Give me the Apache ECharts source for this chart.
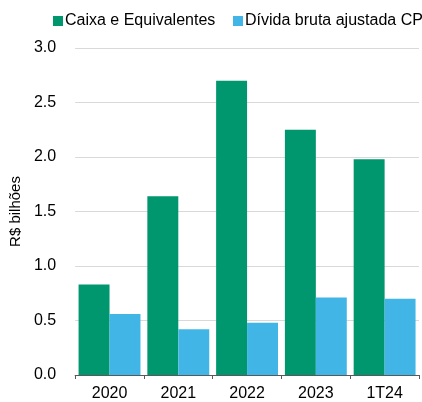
<!DOCTYPE html>
<html>
<head>
<meta charset="utf-8">
<script src="https://cdn.jsdelivr.net/npm/echarts@6/dist/echarts.min.js"></script>
<style>
  html, body { margin: 0; padding: 0; background: #fff; }
  #chart { width: 422px; height: 402px; }
</style>
</head>
<body>
<div id="chart"></div>
<script>
  const categories = ['2020', '2021', '2022', '2023', '1T24']
  const seriesNames = ['Caixa e Equivalentes', 'Dívida bruta ajustada CP']
  const caixa = [0.83, 1.64, 2.70, 2.25, 1.98]
  const divida = [0.56, 0.42, 0.48, 0.71, 0.70]
  const yTicks = { min: 0, max: 3, interval: 0.5 }

  const font = 'Liberation Sans, Arial, sans-serif'
  const legendBase = {
    top: 13,
    padding: 0,
    itemWidth: 10,
    itemHeight: 10,
    icon: 'rect',
    textStyle: { fontSize: 16, color: '#000', fontFamily: font, padding: [0, 0, 0, -3] },
  }
  let chart = echarts.init(document.getElementById('chart'))
  chart.setOption({
    animation: false,
    textStyle: { fontFamily: font },
    legend: [
      Object.assign({}, legendBase, { left: 53, data: [seriesNames[0]] }),
      Object.assign({}, legendBase, { left: 233, data: [seriesNames[1]] }),
    ],
    grid: { left: 75, right: 3, top: 48, bottom: 26 },
    xAxis: {
      type: 'category',
      data: categories,
      axisLine: { lineStyle: { color: '#595959' } },
      axisTick: { show: true, length: 4, lineStyle: { color: '#595959' } },
      axisLabel: { color: '#000', fontSize: 16, margin: 11 },
    },
    yAxis: {
      type: 'value',
      min: yTicks.min,
      max: yTicks.max,
      interval: yTicks.interval,
      name: 'R$ bilhões',
      nameLocation: 'middle',
      nameGap: 51,
      nameTextStyle: { color: '#000', fontSize: 15 },
      axisLabel: { color: '#000', fontSize: 16, margin: 19, formatter: v => v.toFixed(1) },
      splitLine: { lineStyle: { color: '#d9d9d9' } },
      axisLine: { show: false },
      axisTick: { show: false },
    },
    series: [
      {
        name: seriesNames[0],
        type: 'bar',
        data: caixa,
        barGap: '0%',
        barCategoryGap: '10%',
        itemStyle: { color: '#00966E' },
      },
      {
        name: seriesNames[1],
        type: 'bar',
        data: divida,
        itemStyle: { color: '#41B6E6' },
      },
    ],
  })
</script>
</body>
</html>
